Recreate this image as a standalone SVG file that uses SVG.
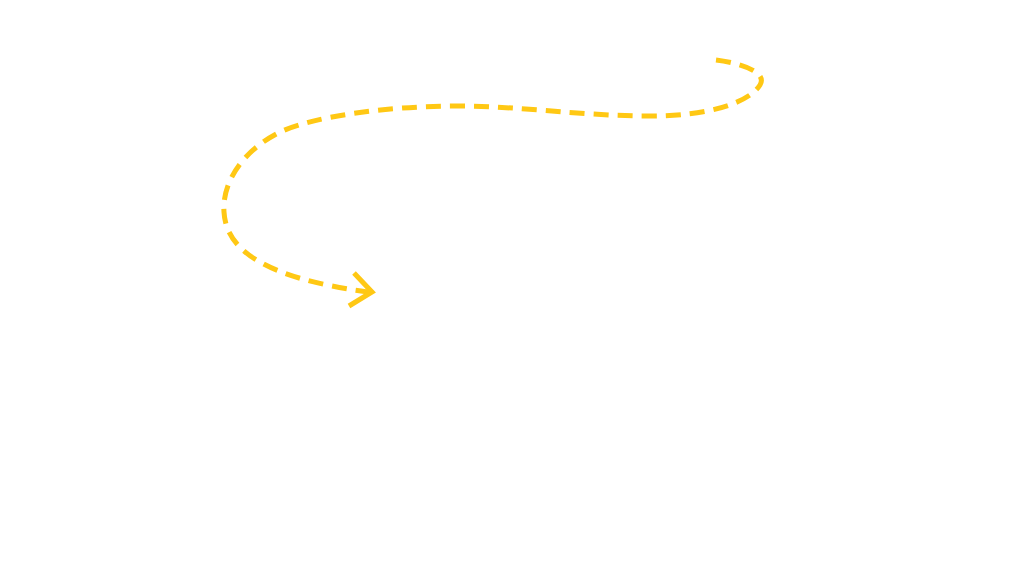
<svg xmlns="http://www.w3.org/2000/svg" width="1024" height="576" viewBox="0 0 1024 576">
<style>
.conn{fill:none;stroke:#FFC814;stroke-width:5;stroke-dasharray:15 9}
.head{fill:none;stroke:#FFC814;stroke-width:5;stroke-linejoin:miter}
</style>
<rect width="1024" height="576" fill="#fff"/>
<g id="connectors">
<path class="conn" d="M716,60 C740,63 768,72 760,85 C748,104 705,116 650,116 C580,116 520,106 460,106 C380,106 310,118 280,132 C240,152 222,185 224,212 C226,250 265,278 368,292"/>
<polyline class="head" points="354,273 372,292 349,306"/>
</g>
</svg>
